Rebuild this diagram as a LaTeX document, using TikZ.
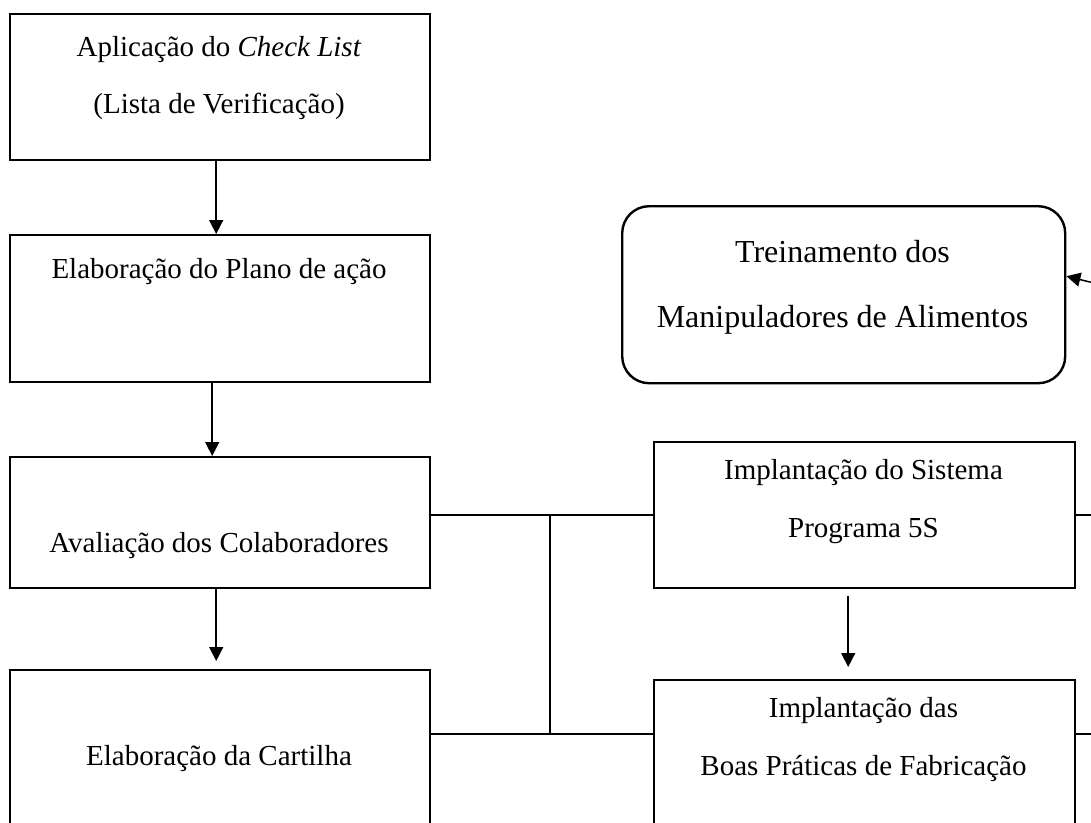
\documentclass[tikz,border=0pt]{standalone}
\usepackage{fontspec}
\setmainfont{Liberation Serif}
\usetikzlibrary{positioning, arrows.meta}

\tikzset{
  etapa/.style={draw, line width=2.4pt, rectangle, inner sep=0pt, anchor=north west},
  treino/.style={draw, line width=2.4pt, rectangle, rounded corners=27pt, inner sep=0pt, anchor=north west},
  texto/.style={font=\fontsize{29}{35}\selectfont, inner sep=0pt, anchor=base},
  textogrande/.style={font=\fontsize{32}{38}\selectfont, inner sep=0pt, anchor=base},
  seta/.style={line width=1.5pt, -{Triangle[length=14pt,width=14pt]}},
  liga/.style={line width=1.5pt}
}

\begin{document}
\begin{tikzpicture}[x=1pt,y=-1pt]
\useasboundingbox (0,0) rectangle (1091,822);
\clip (0,0) rectangle (1091,822);

% left column
\node[etapa, minimum width=420pt, minimum height=146pt] (checklist) at (9,13) {};
\node[etapa, minimum width=420pt, minimum height=147pt] (plano) at (9,234) {};
\node[etapa, minimum width=420pt, minimum height=131pt] (avaliacao) at (9,456) {};
\node[etapa, minimum width=420pt, minimum height=231pt] (cartilha) at (9,669) {};

% right column
\node[treino, minimum width=443pt, minimum height=177pt] (manipuladores) at (621,205) {};
\node[etapa, minimum width=421pt, minimum height=146pt] (sistema) at (653,441) {};
\node[etapa, minimum width=421pt, minimum height=221pt] (bpf) at (653,679) {};

% texts
\node[texto] (checklist-a) at (219,56) {Aplicação do \textit{Check List}};
\node[texto] (checklist-b) at (219,113) {(Lista de Verificação)};
\node[texto] (plano-a) at (219,278) {Elaboração do Plano de ação};
\node[texto] (avaliacao-a) at (219,552) {Avaliação dos Colaboradores};
\node[texto] (cartilha-a) at (219,765) {Elaboração da Cartilha};
\node[textogrande] (manipuladores-a) at (842.5,262) {Treinamento dos};
\node[textogrande] (manipuladores-b) at (842.5,327) {Manipuladores de Alimentos};
\node[texto] (sistema-a) at (863.5,479) {Implantação do Sistema};
\node[texto] (sistema-b) at (863.5,537) {Programa 5S};
\node[texto] (bpf-a) at (863.5,717) {Implantação das};
\node[texto] (bpf-b) at (863.5,775) {Boas Práticas de Fabricação};

% arrows
\draw[seta] ([xshift=-4pt]checklist.south) -- ([xshift=-4pt]plano.north);
\draw[seta] ([xshift=-8pt]plano.south) -- ([xshift=-8pt]avaliacao.north);
\draw[seta, shorten >=8pt] ([xshift=-4pt]avaliacao.south) -- ([xshift=-4pt]cartilha.north);
\draw[seta, shorten <=7pt, shorten >=12pt] ([xshift=-16.5pt]sistema.south) -- ([xshift=-16.5pt]bpf.north);

% connections
\coordinate (juncao) at (550,734);
\coordinate (saida) at (1100,734);
\coordinate (retorno) at (1100,284.5);
\draw[liga] (avaliacao.east |- sistema.west) -- (sistema.west);
\draw[liga] (cartilha.east |- juncao) -- (bpf.west |- juncao);
\draw[liga] (juncao) -- (juncao |- sistema.west);
\draw[liga] (sistema.east) -- (sistema.east -| saida);
\draw[liga] (bpf.east |- saida) -- (saida);
\draw[seta] (retorno) -- ([yshift=18.5pt]manipuladores.east);
\end{tikzpicture}
\end{document}
